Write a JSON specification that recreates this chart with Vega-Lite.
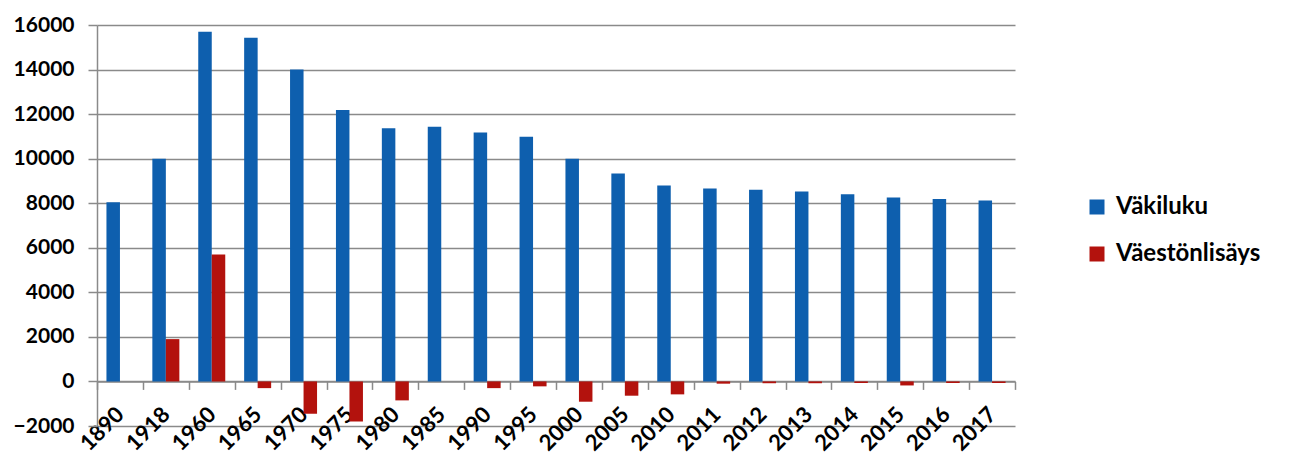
{
  "$schema": "https://vega.github.io/schema/vega-lite/v6.json",
  "description": "Väkiluku ja väestönlisäys vuosittain, ryhmitelty pylväskaavio.",
  "width": 918,
  "height": 401,
  "autosize": {"type": "none"},
  "padding": {"left": 97, "top": 25, "right": 274, "bottom": 39},
  "background": "white",
  "data": {
    "values": [
      {"vuosi": "1890", "sarja": "Väkiluku", "arvo": 8040},
      {"vuosi": "1918", "sarja": "Väkiluku", "arvo": 10000},
      {"vuosi": "1918", "sarja": "Väestönlisäys", "arvo": 1900},
      {"vuosi": "1960", "sarja": "Väkiluku", "arvo": 15700},
      {"vuosi": "1960", "sarja": "Väestönlisäys", "arvo": 5700},
      {"vuosi": "1965", "sarja": "Väkiluku", "arvo": 15430},
      {"vuosi": "1965", "sarja": "Väestönlisäys", "arvo": -300},
      {"vuosi": "1970", "sarja": "Väkiluku", "arvo": 14000},
      {"vuosi": "1970", "sarja": "Väestönlisäys", "arvo": -1450},
      {"vuosi": "1975", "sarja": "Väkiluku", "arvo": 12190},
      {"vuosi": "1975", "sarja": "Väestönlisäys", "arvo": -1800},
      {"vuosi": "1980", "sarja": "Väkiluku", "arvo": 11370},
      {"vuosi": "1980", "sarja": "Väestönlisäys", "arvo": -850},
      {"vuosi": "1985", "sarja": "Väkiluku", "arvo": 11430},
      {"vuosi": "1985", "sarja": "Väestönlisäys", "arvo": 0},
      {"vuosi": "1990", "sarja": "Väkiluku", "arvo": 11180},
      {"vuosi": "1990", "sarja": "Väestönlisäys", "arvo": -300},
      {"vuosi": "1995", "sarja": "Väkiluku", "arvo": 10980},
      {"vuosi": "1995", "sarja": "Väestönlisäys", "arvo": -220},
      {"vuosi": "2000", "sarja": "Väkiluku", "arvo": 10000},
      {"vuosi": "2000", "sarja": "Väestönlisäys", "arvo": -910},
      {"vuosi": "2005", "sarja": "Väkiluku", "arvo": 9330},
      {"vuosi": "2005", "sarja": "Väestönlisäys", "arvo": -640},
      {"vuosi": "2010", "sarja": "Väkiluku", "arvo": 8790},
      {"vuosi": "2010", "sarja": "Väestönlisäys", "arvo": -580},
      {"vuosi": "2011", "sarja": "Väkiluku", "arvo": 8660},
      {"vuosi": "2011", "sarja": "Väestönlisäys", "arvo": -100},
      {"vuosi": "2012", "sarja": "Väkiluku", "arvo": 8600},
      {"vuosi": "2012", "sarja": "Väestönlisäys", "arvo": -80},
      {"vuosi": "2013", "sarja": "Väkiluku", "arvo": 8530},
      {"vuosi": "2013", "sarja": "Väestönlisäys", "arvo": -80},
      {"vuosi": "2014", "sarja": "Väkiluku", "arvo": 8400},
      {"vuosi": "2014", "sarja": "Väestönlisäys", "arvo": -70},
      {"vuosi": "2015", "sarja": "Väkiluku", "arvo": 8260},
      {"vuosi": "2015", "sarja": "Väestönlisäys", "arvo": -180},
      {"vuosi": "2016", "sarja": "Väkiluku", "arvo": 8190},
      {"vuosi": "2016", "sarja": "Väestönlisäys", "arvo": -70},
      {"vuosi": "2017", "sarja": "Väkiluku", "arvo": 8120},
      {"vuosi": "2017", "sarja": "Väestönlisäys", "arvo": -70}
    ]
  },
  "mark": {"type": "bar"},
  "encoding": {
    "x": {
      "field": "vuosi",
      "type": "ordinal",
      "title": null,
      "scale": {"paddingInner": 0, "paddingOuter": 0},
      "axis": {
        "offset": -44.6,
        "labelAngle": -45,
        "labelAlign": "right",
        "labelBaseline": "middle",
        "labelPadding": 21,
        "labelFontSize": 22,
        "tickBand": "extent",
        "tickSize": 8,
        "tickColor": "#8a8a8a",
        "tickWidth": 1.5,
        "domainColor": "#8a8a8a",
        "domainWidth": 1.5
      }
    },
    "xOffset": {
      "field": "sarja",
      "type": "nominal",
      "sort": ["Väkiluku", "Väestönlisäys"],
      "scale": {"paddingInner": 0, "paddingOuter": 0.7}
    },
    "y": {
      "field": "arvo",
      "type": "quantitative",
      "title": null,
      "scale": {"domain": [-2000, 16000], "nice": false},
      "axis": {
        "values": [-2000, 0, 2000, 4000, 6000, 8000, 10000, 12000, 14000, 16000],
        "format": "d",
        "tickSize": 9,
        "labelPadding": 14,
        "labelFontSize": 21,
        "tickColor": "#8a8a8a",
        "tickWidth": 1.5,
        "domainColor": "#8a8a8a",
        "domainWidth": 1.5,
        "gridColor": "#8a8a8a",
        "gridWidth": 1.5
      }
    },
    "color": {
      "field": "sarja",
      "type": "nominal",
      "scale": {
        "domain": ["Väkiluku", "Väestönlisäys"],
        "range": ["#0e5fae", "#b3120d"]
      },
      "legend": {
        "title": null,
        "orient": "none",
        "legendX": 988,
        "legendY": 170,
        "symbolType": "square",
        "symbolSize": 225,
        "symbolStrokeWidth": 0,
        "labelFontSize": 24,
        "labelFont": "Lato",
        "labelFontWeight": "bold",
        "labelColor": "black",
        "labelOffset": 7,
        "rowPadding": 23,
        "padding": 0
      }
    }
  },
  "config": {
    "view": {"stroke": null},
    "axis": {
      "labelFont": "Lato",
      "labelFontWeight": "bold",
      "labelColor": "black"
    },
    "axisX": {"grid": false},
    "axisY": {"grid": true}
  }
}
